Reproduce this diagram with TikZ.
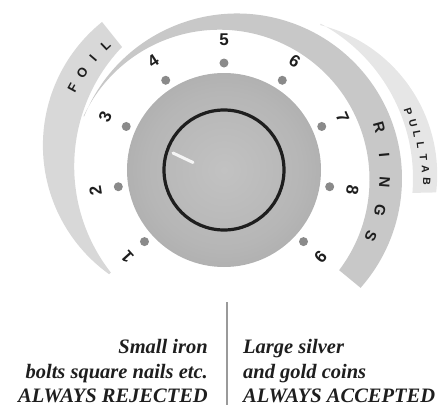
\documentclass[tikz,border=0pt]{standalone}
\usepackage{fontspec}
\setmainfont{Liberation Serif}
\newfontfamily\numfont{Liberation Sans}
\usetikzlibrary{calc}
\definecolor{bandA}{HTML}{D8D8D8}
\definecolor{bandB}{HTML}{C8C8C8}
\definecolor{bandC}{HTML}{E6E6E6}
\definecolor{dotc}{HTML}{8A8A8A}
\definecolor{inkc}{HTML}{1E1E1E}
\definecolor{linec}{HTML}{9A9A9A}
\definecolor{kc0}{HTML}{C2C2C2}
\definecolor{kc1}{HTML}{B6B6B6}
\definecolor{kc2}{HTML}{A9A9A9}
\definecolor{kc3}{HTML}{9A9A9A}
\definecolor{kc4}{HTML}{888888}
\pgfdeclareradialshading{knobshade}{\pgfpoint{0bp}{0bp}}{color(0bp)=(kc0); color(20bp)=(kc1); color(33bp)=(kc2); color(44bp)=(kc3); color(50bp)=(kc4)}
\begin{document}
\begin{tikzpicture}[x=1pt,y=1pt,
  numlab/.style={font=\numfont\bfseries\fontsize{17}{17}\selectfont, text=inkc, inner sep=0pt},
  ringlab/.style={font=\numfont\bfseries\fontsize{15}{15}\selectfont, text=inkc, inner sep=0pt},
  foillab/.style={font=\numfont\bfseries\fontsize{13}{13}\selectfont, text=inkc, inner sep=0pt},
  pulllab/.style={font=\numfont\bfseries\fontsize{10.5}{10.5}\selectfont, text=inkc, inner sep=0pt},
  caption/.style={font=\bfseries\itshape\fontsize{20.5}{24}\selectfont, text=inkc, inner sep=0pt}]
\useasboundingbox (-224,-235) rectangle (218,170);
\coordinate (C1) at (-4.5,-9.7);
\coordinate (C2) at (13,-8.5);
\coordinate (C3) at (-22.7,24.6);
\coordinate (C4) at (22.8,3.8);
\coordinate (C5) at (59,-4.7);
% FOIL band
\fill[bandA] ([shift={(C3)}]128.8:158.4) arc[start angle=128.8, end angle=234.4, radius=158.4]
  -- ([shift={(C4)}]218:172.6) arc[start angle=218, end angle=136.3, radius=172.6] -- cycle;
% RINGS band
\fill[bandB] ([shift={(C2)}]157.9:165) arc[start angle=157.9, end angle=-41.5, radius=165]
  -- ([shift={(C1)}]-37.1:150) arc[start angle=-37.1, end angle=155, radius=150] -- cycle;
% PULLTAB band
\fill[bandC] ([shift={(C2)}]61.6:176) arc[start angle=61.6, end angle=-4.7, radius=176]
  -- ([shift={(C5)}]-6.6:154.2) arc[start angle=-6.6, end angle=76.1, radius=154.2] -- cycle;
% knob
\shade[shading=knobshade] (0,0) circle[radius=97];
\draw[line width=3.2pt, inkc] (0,0) circle[radius=60];
\coordinate (ind1) at (-51,17);
\coordinate (ind2) at (-31,7.5);
\draw[line width=3pt, white!92!gray, line cap=round] (ind1) -- (ind2);
% dots and numbers
\foreach \k in {1,...,9} {
  \fill[dotc] ({90+33*(5-\k)}:107) circle[radius=4.5];
  \node[numlab, rotate={33*(5-\k)}] (n\k) at ({90+33*(5-\k)}:130) {\k};
}
% band letters
\foreach \c [count=\i] in {F,O,I,L}
  \node[foillab, rotate={151.5-6*(\i-1)-90}] (foil\i) at ({151.5-6*(\i-1)}:172) {\c};
\foreach \c [count=\i] in {R,I,N,G,S}
  \node[ringlab, rotate={15.3-9.9*(\i-1)-90}] (ring\i) at ({15.3-9.9*(\i-1)}:161) {\c};
\foreach \c [count=\i] in {P,U,L,L,T,A,B}
  \node[pulllab, rotate={17.5-3.48*(\i-1)-90}] (pull\i) at ({17.5-3.48*(\i-1)}:{193+1.7*(\i-1)}) {\c};
% separator
\coordinate (sepT) at (3,-132);
\coordinate (sepB) at (3,-235);
\draw[line width=1.5pt, linec] (sepT) -- (sepB);
% captions
\node[caption, anchor=base east] (l1) at (-16,-183) {Small iron};
\node[caption, anchor=base east] (l2) at (-16,-208) {bolts square nails etc.};
\node[caption, anchor=base east] (l3) at (-16,-232) {ALWAYS REJECTED};
\node[caption, anchor=base west] (r1) at (19,-183) {Large silver};
\node[caption, anchor=base west] (r2) at (19,-208) {and gold coins};
\node[caption, anchor=base west] (r3) at (19,-232) {ALWAYS ACCEPTED};
\end{tikzpicture}
\end{document}
